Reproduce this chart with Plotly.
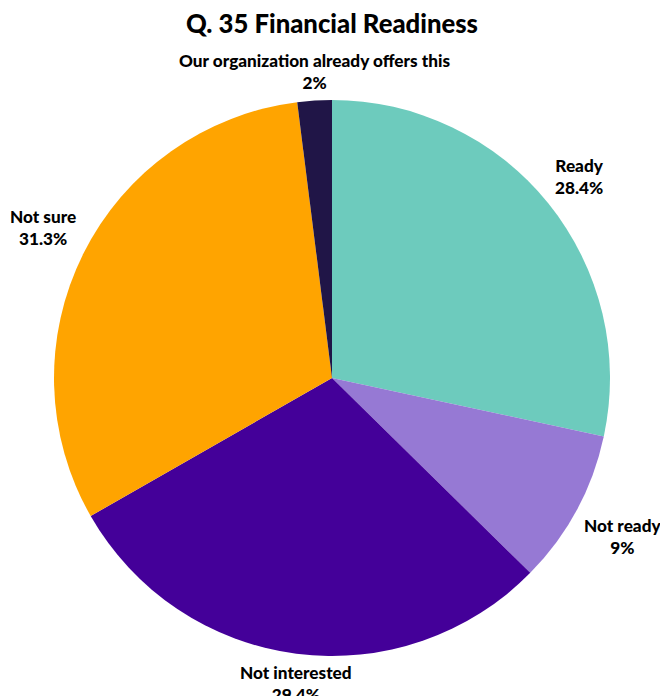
import math
import plotly.graph_objects as go

# Survey responses: Q. 35 Financial Readiness
categories = ["Ready", "Not ready", "Not interested", "Not sure",
              "Our organization already offers this"]
shares = [28.4, 9, 29.4, 31.3, 2]
value_labels = ["28.4%", "9%", "29.4%", "31.3%", "2%"]
slice_colors = ["#6dcbbd", "#9679d4", "#440099", "#ffa400", "#201547"]

# Plot area is a square so the pie fills it; labels sit just outside the rim
PLOT_PX = 556
MARGIN = dict(l=54, r=50, t=100, b=40)
LABEL_RADIUS_PX = PLOT_PX / 2 + 6
FONT_FAMILY = "Lato Black, Lato"
LABEL_FONT = dict(family=FONT_FAMILY, size=17.2, color="#000000", weight=900)

fig = go.Figure(
    go.Pie(
        labels=categories,
        values=shares,
        textinfo="none",
        marker=dict(colors=slice_colors, line=dict(width=0)),
        sort=False,
        direction="clockwise",
        rotation=0,
        showlegend=False,
        hoverinfo="label+percent",
    )
)

# Data labels placed along each slice's mid-angle (clockwise from 12 o'clock)
total = sum(shares)
cumulative = 0.0
for name, share, pct in zip(categories, shares, value_labels):
    mid = (cumulative + share / 2) / total * 2 * math.pi
    cumulative += share
    dx = math.sin(mid)
    dy = math.cos(mid)
    xanchor = "left" if dx > 0.3 else ("right" if dx < -0.3 else "center")
    yanchor = "bottom" if dy > 0 else "top"
    fig.add_annotation(
        x=0.5 + dx * LABEL_RADIUS_PX / PLOT_PX,
        y=0.5 + dy * LABEL_RADIUS_PX / PLOT_PX,
        xref="paper",
        yref="paper",
        text=f"{name}<br>{pct}",
        showarrow=False,
        xanchor=xanchor,
        yanchor=yanchor,
        align="center",
        font=LABEL_FONT,
    )

fig.update_layout(
    width=660,
    height=696,
    paper_bgcolor="white",
    plot_bgcolor="white",
    margin=MARGIN,
    title=dict(
        text="Q. 35 Financial Readiness",
        x=0.503,
        xanchor="center",
        y=0.965,
        yanchor="middle",
        font=dict(family=FONT_FAMILY, size=25.7, color="#000000", weight=900),
    ),
)

fig.write_html("out.html")
